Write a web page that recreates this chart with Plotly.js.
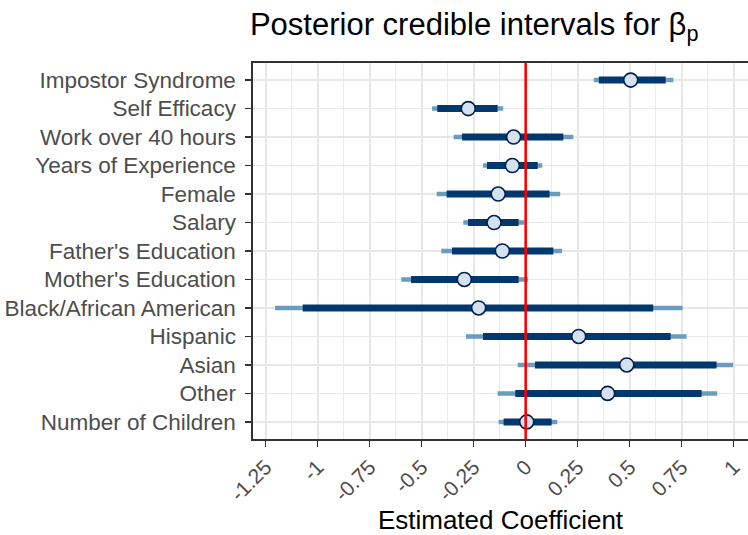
<!DOCTYPE html>
<html>
<head>
<meta charset="utf-8">
<script src="https://cdn.plot.ly/plotly-3.0.1.min.js"></script>
<style>html,body{margin:0;padding:0;background:#fff;}#chart{width:748px;height:535px;}</style>
</head>
<body>
<div id="chart"></div>
<script>
var parameters = ["Impostor Syndrome","Self Efficacy","Work over 40 hours","Years of Experience","Female","Salary","Father's Education","Mother's Education","Black/African American","Hispanic","Asian","Other","Number of Children"];
var outerLow  = [0.328,-0.450,-0.346,-0.205,-0.428,-0.300,-0.406,-0.598,-1.205,-0.287,-0.038,-0.135,-0.130];
var innerLow  = [0.352,-0.425,-0.306,-0.186,-0.380,-0.277,-0.354,-0.551,-1.072,-0.205, 0.045,-0.050,-0.106];
var medians   = [0.505,-0.276,-0.058,-0.064,-0.132,-0.152,-0.112,-0.295,-0.226, 0.255, 0.486, 0.394, 0.005];
var innerHigh = [0.673,-0.135, 0.181, 0.058, 0.115,-0.034, 0.133,-0.034, 0.613, 0.697, 0.918, 0.846, 0.125];
var outerHigh = [0.710,-0.108, 0.229, 0.080, 0.166,-0.007, 0.175, 0.011, 0.755, 0.774, 0.998, 0.921, 0.152];
var tickVals = [-1.25,-1,-0.75,-0.5,-0.25,0,0.25,0.5,0.75,1];
var tickText = ["-1.25","-1","-0.75","-0.5","-0.25","0","0.25","0.5","0.75","1"];

function segs(lo, hi) {
  var xs = [], ys = [];
  for (var i = 0; i < parameters.length; i++) {
    xs.push(lo[i], hi[i], null);
    ys.push(parameters[i], parameters[i], null);
  }
  return {x: xs, y: ys};
}
var o = segs(outerLow, outerHigh);
var n = segs(innerLow, innerHigh);

var traces = [
  {type:'scatter', mode:'lines', x:o.x, y:o.y, line:{color:'#6b9bbd', width:4.5}, hoverinfo:'skip', showlegend:false},
  {type:'scatter', mode:'lines', x:n.x, y:n.y, line:{color:'#02386e', width:7}, hoverinfo:'skip', showlegend:false},
  {type:'scatter', mode:'markers', x:medians, y:parameters,
   marker:{size:14, color:'#d3e2ee', line:{color:'#011f4b', width:1.6}}, showlegend:false}
];

var layout = {
  width:748, height:535,
  paper_bgcolor:'#ffffff', plot_bgcolor:'#ffffff',
  margin:{l:253, r:0, t:63, b:96},
  font:{family:'"Liberation Sans", Arial, sans-serif', color:'#000'},
  title:{text:'Posterior credible intervals for β<sub>p</sub>', font:{size:31, color:'#000'},
         x:0.634, xanchor:'center', y:0.955, yanchor:'middle'},
  xaxis:{
    range:[-1.311, 1.069], tickvals:tickVals, ticktext:tickText, tickangle:-45,
    tickfont:{size:21, color:'#4d4d4d'}, ticks:'outside', ticklen:6, tickwidth:1.6, tickcolor:'#333',
    showgrid:true, gridcolor:'#e8e8e8', gridwidth:1.8,
    minor:{dtick:0.125, tick0:0, showgrid:true, gridcolor:'#ebebeb', gridwidth:1.4, ticks:''},
    showline:true, linecolor:'#333', linewidth:1.6, mirror:true, zeroline:false,
    title:{text:'Estimated Coefficient', font:{size:26, color:'#000'}, standoff:10}
  },
  yaxis:{
    type:'category', categoryorder:'array', categoryarray:parameters, range:[12.6,-0.6],
    tickfont:{size:22.5, color:'#4d4d4d'}, ticks:'outside', ticklen:6, tickwidth:1.6, tickcolor:'#333',
    ticklabelstandoff:5,
    showgrid:true, gridcolor:'#e8e8e8', gridwidth:1.8,
    showline:true, linecolor:'#333', linewidth:1.6, zeroline:false
  },
  shapes:[{type:'line', xref:'x', yref:'paper', x0:0, x1:0, y0:0, y1:1, layer:'above',
           line:{color:'#ff0000', width:2.6}}]
};
Plotly.newPlot('chart', traces, layout, {staticPlot:true, displayModeBar:false});
</script>
</body>
</html>
